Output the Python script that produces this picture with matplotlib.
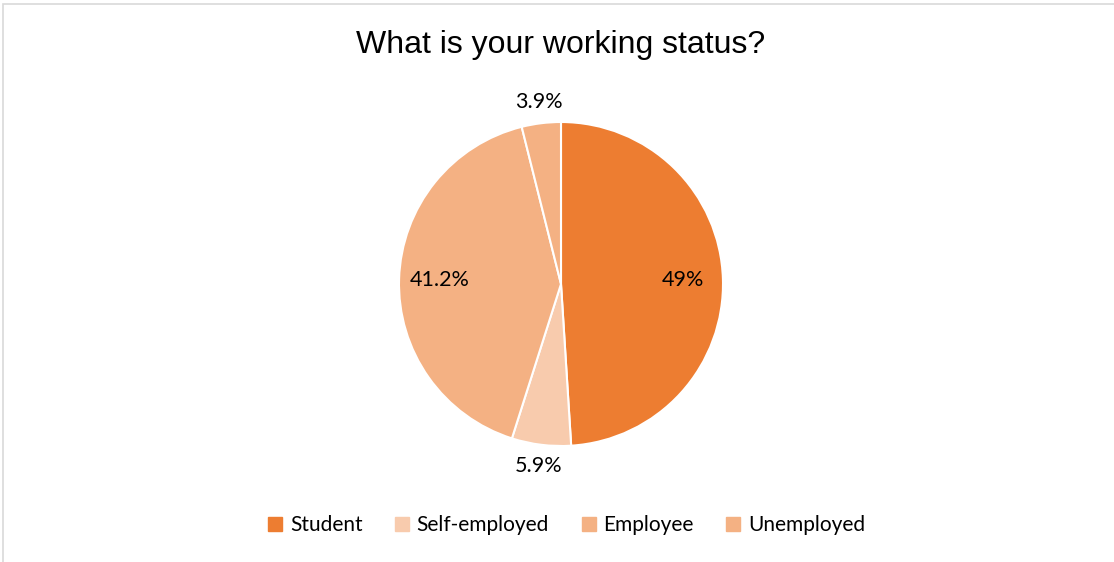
import numpy as np
import matplotlib
matplotlib.use('Agg')
import matplotlib.pyplot as plt
from matplotlib.patches import Rectangle
from matplotlib.lines import Line2D

plt.rcParams['font.family'] = ['Lato', 'DejaVu Sans']

# ── Survey data ──────────────────────────────────────────────────────────────
CATEGORIES = ['Student', 'Self-employed', 'Employee', 'Unemployed']
SHARES = [49, 5.9, 41.2, 3.9]
COLORS = ['#ED7D31', '#F8CBAD', '#F4B183', '#F4B183']
INSIDE = [True, False, True, False]

W, H, DPI = 1114, 562, 100
CX, CY, R = 561, 278, 162   # pie centre / radius in pixels

fig = plt.figure(figsize=(W / DPI, H / DPI), dpi=DPI, facecolor='white')

# light frame around the chart area
fig.patches.append(Rectangle((3 / W, -0.1), 1.2, 1 - 4 / H + 0.1,
                             transform=fig.transFigure, fill=False,
                             edgecolor='#D9D9D9', linewidth=1.2))

ax = fig.add_axes([(CX - R) / W, (CY - R) / H, 2 * R / W, 2 * R / H])
wedges, _ = ax.pie(SHARES, colors=COLORS, startangle=90, counterclock=False,
                   radius=1.0,
                   wedgeprops={'linewidth': 1.5, 'edgecolor': 'white'})
ax.set_xlim(-1, 1)
ax.set_ylim(-1, 1)
ax.set_aspect('equal')
ax.axis('off')

for w, v, inside in zip(wedges, SHARES, INSIDE):
    mid = np.deg2rad((w.theta1 + w.theta2) / 2)
    r = 0.75 if inside else 1.13
    ax.text(r * np.cos(mid), r * np.sin(mid), f'{v:g}%',
            ha='center', va='center', fontsize=15.5, color='#000000')

fig.text(CX / W, 1 - 45 / H, 'What is your working status?',
         ha='center', va='center', fontsize=23,
         family='Liberation Sans', color='#000000')

handles = [Line2D([], [], marker='s', linestyle='none', markersize=10,
                  markerfacecolor=c, markeredgecolor=c) for c in COLORS]
fig.legend(handles, CATEGORIES, loc='center', ncol=4,
           bbox_to_anchor=(566 / W, 1 - 525 / H), frameon=False,
           fontsize=15, handletextpad=0.3, columnspacing=1.5,
           handlelength=0.8)

fig.savefig('out.png', dpi=DPI, facecolor='white')
